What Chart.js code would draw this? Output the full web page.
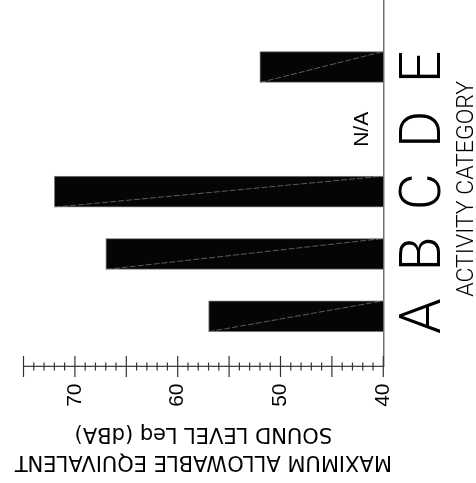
<!DOCTYPE html>
<html>
<head>
<meta charset="utf-8">
<script src="https://cdn.jsdelivr.net/npm/chart.js@4.4.1/dist/chart.umd.min.js"></script>
<style>
html,body{margin:0;padding:0;background:#fff;overflow:hidden;width:476px;height:483px;}
#wrap{position:absolute;left:0;top:0;width:483px;height:476px;transform-origin:0 0;transform:translateY(483px) rotate(-90deg);}
canvas{display:block;}
</style>
</head>
<body>
<div id="wrap"><canvas id="c" width="483" height="476"></canvas></div>
<script>
// ---- data ----
const categories = ['A', 'B', 'C', 'D', 'E'];
const maxLeq = [57, 67, 72, null, 52];          // dBA, D = N/A
const valueTicks = [40, 50, 60, 70];
const naLabel = 'N/A';
const yTitleLines = ['MAXIMUM ALLOWABLE EQUIVALENT', 'SOUND LEVEL Leq (dBA)'];
const xTitle = 'ACTIVITY CATEGORY';

const points = maxLeq.map((v, i) => ({ x: i + 1, y: v }));

const decor = {
  id: 'decor',
  afterDatasetsDraw(chart) {
    const ctx = chart.ctx;
    const meta = chart.getDatasetMeta(0);
    const xs = chart.scales.x, ys = chart.scales.y;
    const basePx = ys.getPixelForValue(ys.min);
    ctx.save();
    ctx.strokeStyle = 'rgba(150,150,150,0.85)';
    ctx.lineWidth = 0.7;
    ctx.setLineDash([6, 2]);
    meta.data.forEach((bar, i) => {
      if (maxLeq[i] == null) return;
      const p = bar.getProps(['x', 'y', 'width'], true);
      ctx.beginPath();
      ctx.moveTo(p.x - p.width / 2, p.y);
      ctx.lineTo(p.x + p.width / 2, basePx);
      ctx.stroke();
    });
    ctx.setLineDash([]);
    ctx.fillStyle = '#000';
    ctx.font = '21px "Liberation Sans", Arial, sans-serif';
    ctx.textAlign = 'center';
    ctx.textBaseline = 'alphabetic';
    maxLeq.forEach((v, i) => {
      if (v == null) ctx.fillText(naLabel, xs.getPixelForValue(i + 1), basePx - 15);
    });
    ctx.restore();
  },
  afterDraw(chart) {
    const ctx = chart.ctx;
    const ys = chart.scales.y;
    const x0 = chart.chartArea.left;
    ctx.save();
    ctx.strokeStyle = '#333';
    ctx.lineWidth = 1.2;
    for (let v = ys.min; v <= ys.max; v++) {
      const py = ys.getPixelForValue(v);
      const L = v % 5 === 0 ? 10.5 : 4;
      ctx.beginPath();
      ctx.moveTo(x0 - L, py);
      ctx.lineTo(x0 + L, py);
      ctx.stroke();
    }
    ctx.restore();
  }
};

new Chart(document.getElementById('c'), {
  type: 'bar',
  data: {
    datasets: [{
      data: points,
      base: 40,
      backgroundColor: '#050505',
      borderColor: '#808080',
      borderWidth: 1,
      barThickness: 31
    }]
  },
  options: {
    responsive: false,
    animation: false,
    devicePixelRatio: 1,
    layout: { autoPadding: false, padding: { top: 23.5, left: 0, right: 0, bottom: 0 } },
    plugins: { legend: { display: false }, tooltip: { enabled: false } },
    scales: {
      x: {
        type: 'linear',
        min: 0.194,
        max: 6.075,
        offset: false,
        afterFit: s => { s.height = 92.7; s.paddingLeft = 0; s.paddingRight = 0; s.paddingTop = 0; s.paddingBottom = 0; },
        afterBuildTicks: s => { s.ticks = categories.map((c, i) => ({ value: i + 1 })); },
        border: { display: true, color: '#707070', width: 1.6 },
        grid: { display: false, drawTicks: false, offset: false },
        ticks: {
          autoSkip: false,
          maxRotation: 0,
          minRotation: 0,
          padding: 14,
          color: '#000',
          font: { family: 'Roboto', size: 57, weight: 300, lineHeight: 1 },
          callback: v => categories[Math.round(v) - 1] || ''
        },
        title: {
          display: true,
          text: xTitle + '\u00a0\u00a0',
          color: '#000',
          font: { family: 'Roboto', size: 23, weight: 300, lineHeight: 0.75 },
          padding: 0
        }
      },
      y: {
        type: 'linear',
        min: 40,
        max: 75,
        afterFit: s => { s.width = 116.5; s.paddingTop = 0; s.paddingBottom = 0; s.paddingLeft = 0; s.paddingRight = 0; },
        afterBuildTicks: s => { s.ticks = valueTicks.map(v => ({ value: v })); },
        border: { display: true, color: '#444', width: 1.3 },
        grid: { display: false, drawTicks: false },
        ticks: {
          autoSkip: false,
          padding: 17,
          color: '#000',
          font: { family: '"Liberation Sans", Arial, sans-serif', size: 21 },
          callback: v => String(v)
        },
        title: {
          display: true,
          text: yTitleLines,
          color: '#000',
          font: { family: '"DejaVu Sans", sans-serif', size: 21, lineHeight: 1.31 },
          padding: { top: 8, bottom: 0 }
        }
      }
    }
  },
  plugins: [decor]
});
</script>
</body>
</html>
